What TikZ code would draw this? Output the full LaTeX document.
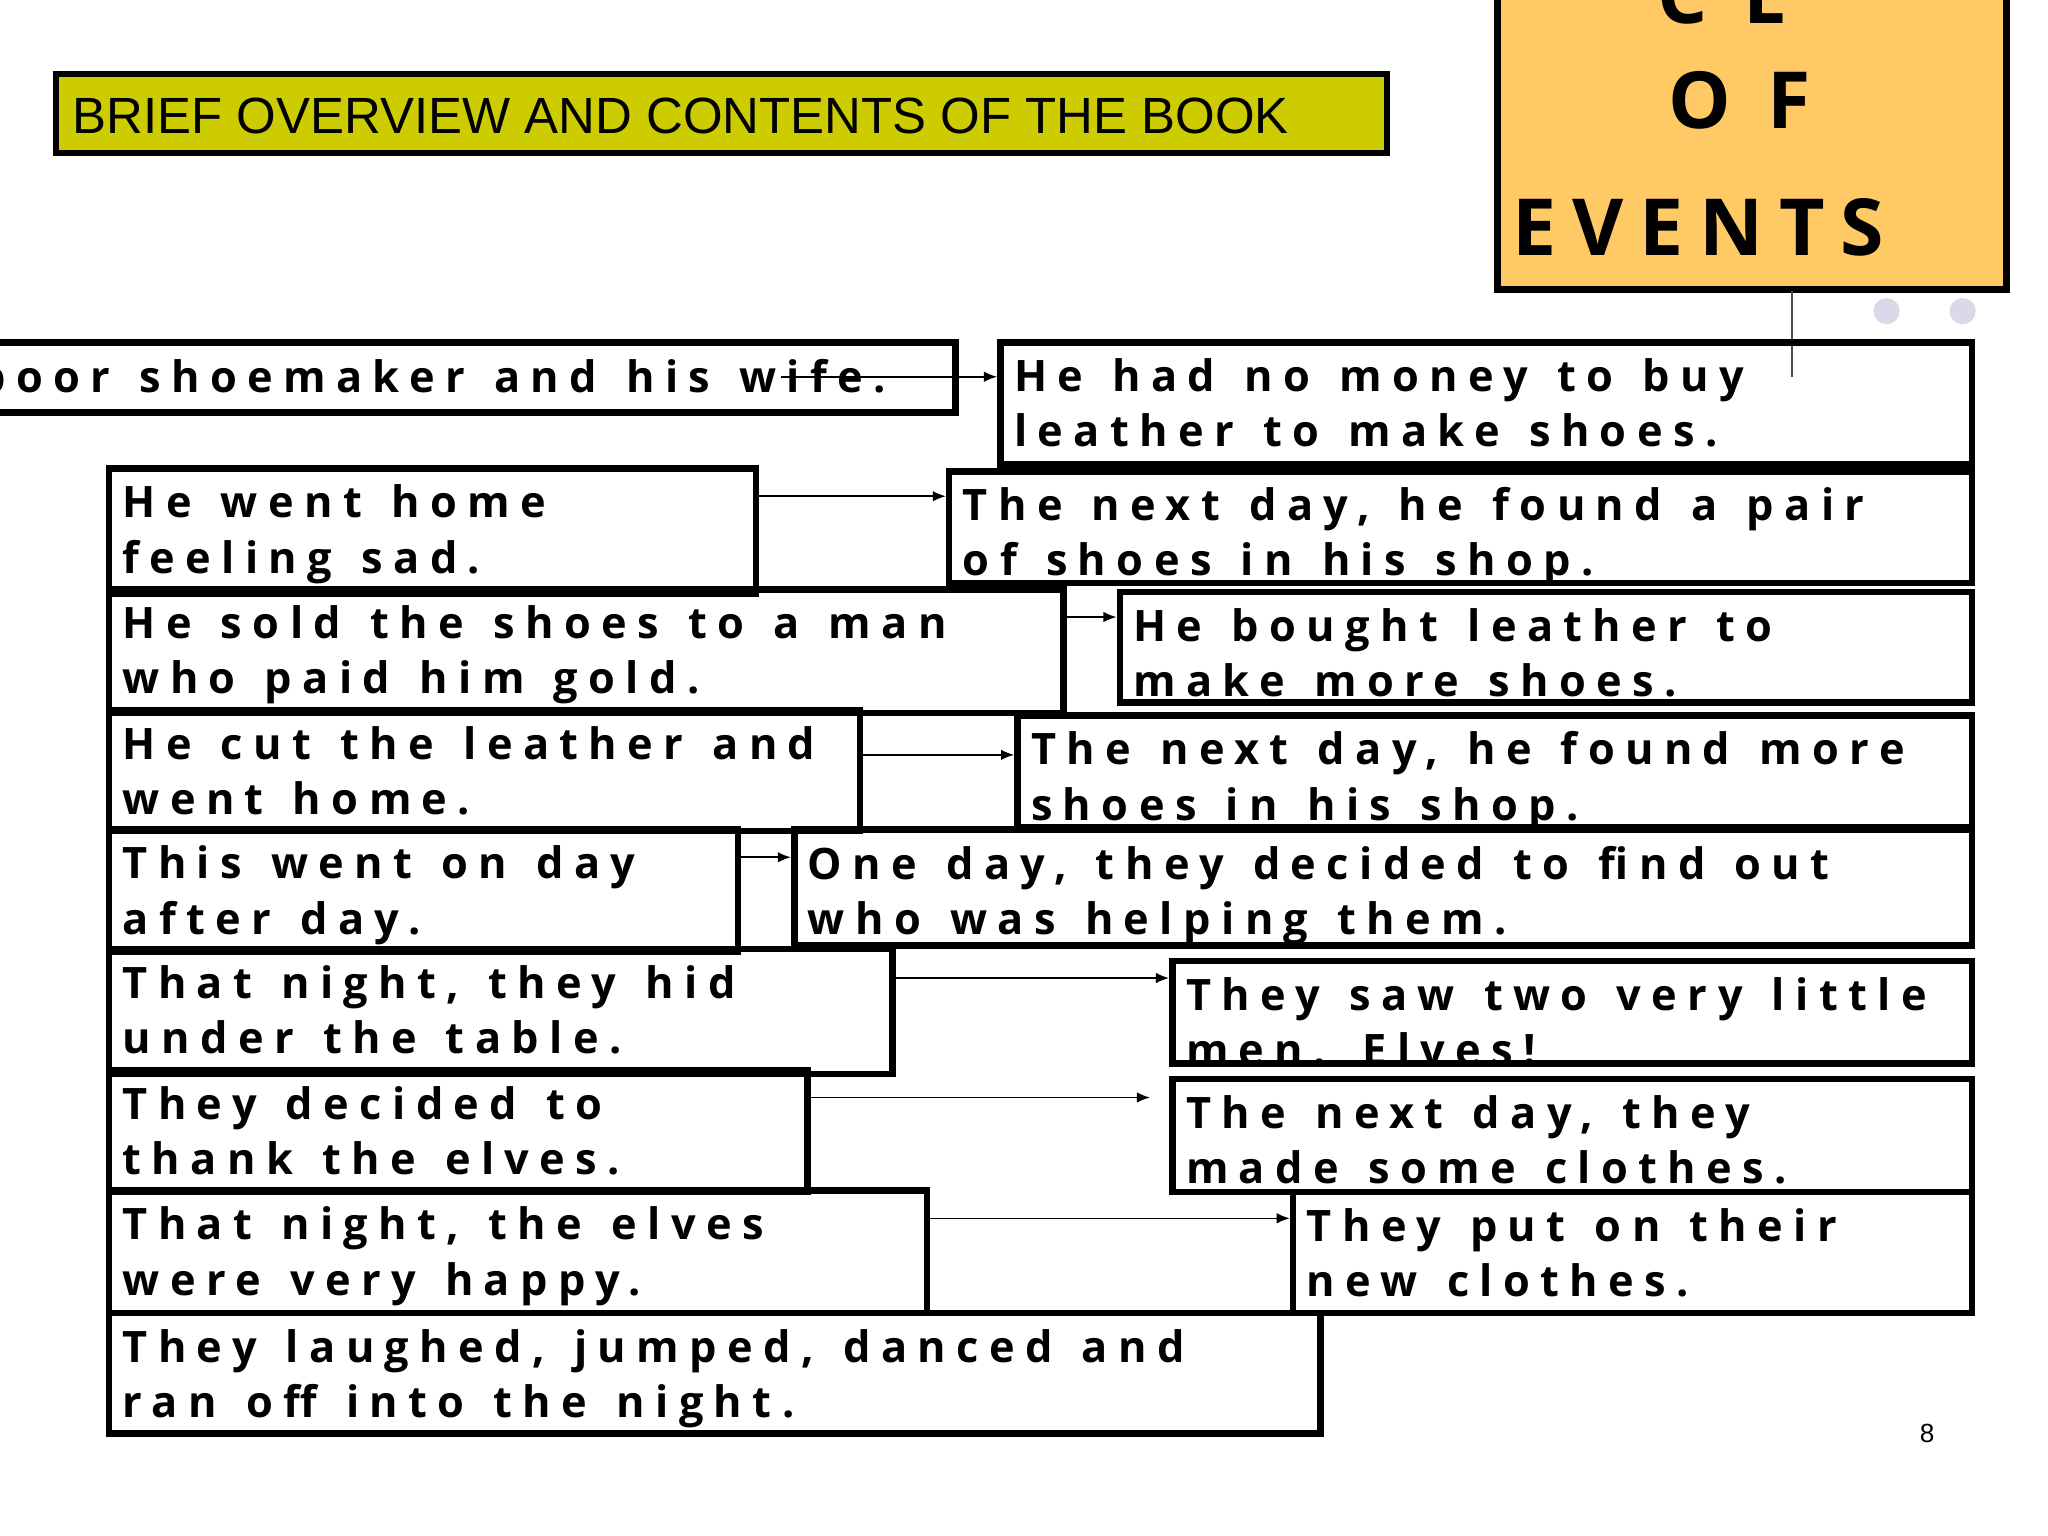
\documentclass[tikz,border=0pt]{standalone}
\usepackage{fontspec}
\setmainfont{Open Sans}[BoldFont={* Bold}]
\newfontfamily\evfont{Open Sans Bold}[LetterSpace=24,WordSpace=1.35]
\newfontfamily\bigfont{Open Sans Bold}[LetterSpace=20]
\newfontfamily\arialfont{Liberation Sans}
\usetikzlibrary{arrows.meta}
\definecolor{titleyel}{HTML}{CCCC00}
\definecolor{orangebox}{HTML}{FFC966}
\definecolor{dotcol}{HTML}{D9D9EA}
\tikzset{
  evframe/.style={draw=black, line width=2.5pt, inner sep=0pt, anchor=north west},
  evtext/.style={anchor=north west, inner sep=0pt, align=left, font=\evfont\fontsize{16.5pt}{21pt}\selectfont},
  conn/.style={-{Latex[length=5pt,width=4pt]}, line width=0.6pt},
}
\newcommand{\evbox}[7]{%
  \node[evframe, minimum width={(#4-#2-5)*0.5pt}, minimum height={(#5-#3-5)*0.5pt}] (#1) at (#2+2.5,#3+2.5) {};
  \node[evtext] (#1t) at (#2+15,#3+17) {#6\\#7};
}
\begin{document}
\begin{tikzpicture}[x=0.5pt,y=-0.5pt]
\useasboundingbox (0,0) rectangle (1560,1170);
\fill[white] (0,0) rectangle (1560,1170);
% title
\node[draw=black, line width=2.5pt, fill=titleyel, minimum width=507pt, minimum height=30pt, anchor=north west, inner sep=0pt] (title) at (40,54) {};
\node[anchor=west, inner sep=0pt, font=\arialfont\fontsize{19.4pt}{20pt}\selectfont] (titlet) at (55,88) {BRIEF OVERVIEW AND CONTENTS OF THE BOOK};
% orange box
\node[draw=black, line width=2.5pt, fill=orangebox, minimum width=194pt, minimum height=115pt, anchor=north west, inner sep=0pt] (seq) at (1138,-12) {};
\node[anchor=base, inner sep=0pt, font=\bigfont\fontsize{30pt}{36pt}\selectfont] (seqa) at (1312,18) {C E};
\node[anchor=base, inner sep=0pt, font=\bigfont\fontsize{30pt}{36pt}\selectfont] (seqb) at (1325,98) {O F};
\node[anchor=base west, inner sep=0pt, font=\bigfont\fontsize{30pt}{36pt}\selectfont] (seqc) at (1152,195) {EVENTS};
\coordinate (vl1) at (1365,222);
\coordinate (vl2) at (1365,287);
\draw[line width=0.6pt, black!70] (vl1) -- (vl2);
\fill[dotcol] (1437,237) circle (5pt);
\fill[dotcol] (1495,237) circle (5pt);
% boxes
\evbox{b1}{-10}{256}{728}{314}{\hspace*{-11pt}poor shoemaker and his wife.}{}
\evbox{b2}{757}{256}{1502}{354}{He had no money to buy}{leather to make shoes.}
\evbox{b3}{78}{352}{576}{452}{He went home}{feeling sad.}
\evbox{b4}{718}{354}{1502}{444}{The next day, he found a pair}{of shoes in his shop.}
\evbox{b5}{78}{444}{810}{543}{He sold the shoes to a man}{who paid him gold.}
\evbox{b6}{848}{446}{1502}{535}{He bought leather to}{make more shoes.}
\evbox{b7}{78}{536}{655}{633}{He cut the leather and}{went home.}
\evbox{b8}{770}{540}{1502}{630}{The next day, he found more}{shoes in his shop.}
\evbox{b9}{78}{627}{562}{725}{This went on day}{after day.}
\evbox{b10}{600}{627}{1502}{720}{One day, they decided to find out}{who was helping them.}
\evbox{b11}{78}{718}{680}{818}{That night, they hid}{under the table.}
\evbox{b12}{888}{727}{1502}{810}{They saw two very little}{men. Elves!}
\evbox{b13}{78}{810}{615}{908}{They decided to}{thank the elves.}
\evbox{b14}{888}{817}{1502}{908}{The next day, they}{made some clothes.}
\evbox{b15}{78}{902}{706}{1000}{That night, the elves}{were very happy.}
\evbox{b16}{980}{903}{1502}{1000}{They put on their}{new clothes.}
\evbox{b17}{78}{995}{1006}{1092}{They laughed, jumped, danced and}{ran off into the night.}
% connectors
\coordinate (a1) at (595,287);
\draw[conn] (a1) -- (b2.west |- a1);
\draw[conn] (b3.east |- 0,378) -- (b4.west |- 0,378);
\draw[conn] (b5.east |- 0,470) -- (b6.west |- 0,470);
\draw[conn] (b7.east |- 0,575) -- (b8.west |- 0,575);
\draw[conn] (b9.east |- 0,653) -- (b10.west |- 0,653);
\draw[conn] (b11.east |- 0,745) -- (b12.west |- 0,745);
\coordinate (g2) at (876,836);
\draw[conn] (b13.east |- g2) -- (g2);
\draw[conn] (b15.east |- 0,928) -- (b16.west |- 0,928);
\node[anchor=base, inner sep=0pt, font=\arialfont\fontsize{10pt}{12pt}\selectfont] (pg) at (1468,1099) {8};
\end{tikzpicture}
\end{document}
